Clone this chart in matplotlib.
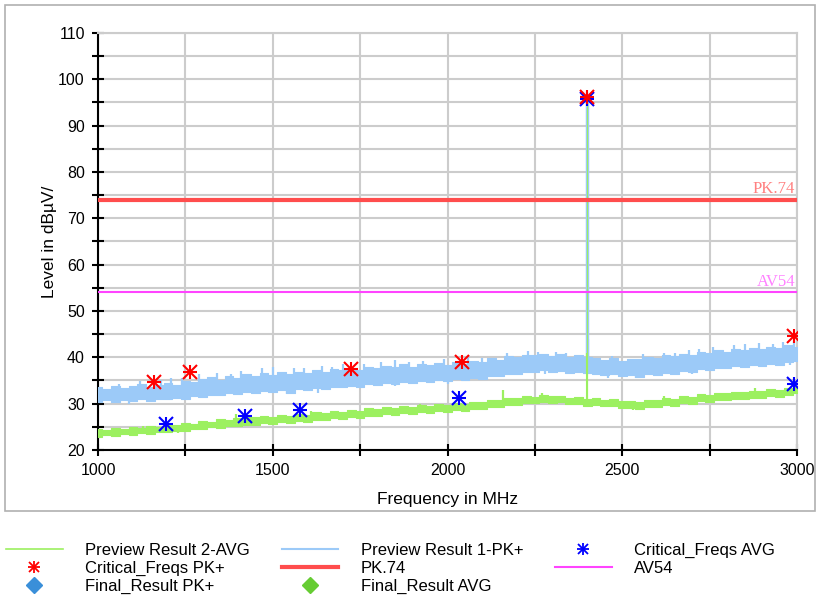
import numpy as np
import matplotlib
matplotlib.use('Agg')
import matplotlib.pyplot as plt
from matplotlib.patches import Rectangle
from matplotlib.legend_handler import HandlerTuple
from matplotlib.lines import Line2D

plt.rcParams['font.family'] = ['Liberation Sans', 'DejaVu Sans']

# trace envelopes (lower / upper edge of the noise band), read every 25 MHz
freq = np.arange(1000, 3001, 25)
pk_hi = [33.6, 33.2, 33.9, 33.3, 33.8, 34.2, 33.7, 34.0, 34.5, 34.1, 35.0, 34.6, 35.3, 35.8,
         35.2, 35.9, 35.6, 36.3, 35.9, 36.6, 36.2, 36.8, 36.3, 36.9, 36.6, 37.2, 36.8, 37.4,
         37.2, 37.7, 37.3, 37.9, 37.6, 38.2, 37.9, 38.5, 38.0, 38.6, 38.3, 38.8, 38.4, 38.9,
         38.6, 39.3, 38.9, 39.8, 39.5, 40.3, 40.0, 40.6, 40.4, 40.8, 40.3, 40.7, 40.1, 40.4,
         40.0, 39.8, 39.5, 39.9, 39.3, 39.7, 39.6, 40.1, 39.8, 40.4, 40.2, 40.8, 40.5, 41.2,
         41.0, 41.5, 41.2, 41.8, 41.6, 42.1, 41.8, 42.3, 42.0, 42.6, 42.3]
pk_lo = [30.4, 30.8, 30.3, 30.7, 30.5, 30.9, 30.6, 31.0, 30.9, 31.3, 31.1, 31.6, 31.4, 31.9,
         31.8, 32.2, 32.0, 32.5, 32.3, 32.7, 32.5, 32.9, 32.4, 33.1, 32.9, 33.3, 33.2, 33.6,
         33.5, 33.9, 33.7, 34.2, 34.0, 34.4, 34.2, 34.6, 34.4, 34.8, 34.7, 35.1, 34.8, 35.3,
         35.1, 35.5, 35.4, 35.9, 36.0, 36.5, 36.4, 36.9, 36.8, 37.2, 36.9, 37.1, 36.7, 36.9,
         36.6, 36.5, 36.2, 36.4, 35.9, 36.2, 35.8, 36.3, 36.1, 36.6, 36.5, 37.0, 36.9, 37.4,
         37.3, 37.8, 37.6, 38.1, 37.9, 38.3, 38.1, 38.6, 38.4, 38.9, 39.2]
av_hi = [24.6, 24.3, 24.8, 24.5, 25.0, 24.7, 25.2, 25.0, 25.5, 25.3, 25.9, 25.7, 26.3, 26.1,
         26.6, 26.4, 26.9, 27.3, 27.1, 27.4, 27.2, 27.5, 27.3, 27.8, 27.6, 28.1, 27.9, 28.4,
         28.2, 28.7, 28.5, 29.0, 28.8, 29.3, 29.1, 29.5, 29.3, 29.7, 29.5, 29.9, 29.7, 30.1,
         29.9, 30.4, 30.3, 30.8, 30.7, 31.3, 31.2, 31.6, 31.5, 31.8, 31.6, 31.7, 31.3, 31.4,
         31.0, 31.2, 30.8, 30.9, 30.5, 30.6, 30.4, 30.8, 30.7, 31.2, 31.1, 31.6, 31.5, 32.0,
         31.9, 32.3, 32.2, 32.6, 32.5, 32.8, 32.7, 33.1, 33.0, 33.4, 33.6]
av_lo = [22.9, 23.2, 23.0, 23.4, 23.2, 23.6, 23.5, 23.9, 23.8, 24.2, 24.1, 24.6, 24.5, 24.9,
         24.8, 25.2, 25.1, 25.5, 25.4, 25.8, 25.6, 26.0, 25.8, 26.2, 26.1, 26.5, 26.4, 26.8,
         26.7, 27.1, 27.0, 27.4, 27.3, 27.7, 27.6, 27.9, 27.8, 28.2, 28.0, 28.4, 28.2, 28.6,
         28.4, 28.9, 28.8, 29.3, 29.3, 29.8, 29.8, 30.2, 30.1, 30.4, 30.2, 30.3, 29.9, 29.9,
         29.6, 29.7, 29.4, 29.4, 29.0, 29.1, 28.9, 29.3, 29.2, 29.7, 29.6, 30.1, 30.0, 30.5,
         30.4, 30.8, 30.7, 31.1, 31.0, 31.3, 31.2, 31.6, 31.5, 31.9, 32.2]

# single noise spikes sticking out of the bands
pk_spike_f = [1060, 1120, 1180, 1210, 1240, 1290, 1340, 1380, 1410, 1470, 1500, 1560, 1590,
              1640, 1670, 1700, 1760, 1810, 1850, 1890, 1930, 1990, 2060, 2100, 2170, 2230,
              2260, 2310, 2340, 2403, 2470, 2560, 2620, 2650, 2690, 2720, 2760, 2820, 2850,
              2890, 2930, 2960, 2990]
pk_spike_bot = [31.8, 32.0, 32.2, 32.5, 32.8, 33.3, 33.6, 33.7, 34.0, 34.3, 34.4, 34.6, 34.7,
                35.0, 35.1, 35.3, 35.5, 35.7, 35.9, 36.0, 36.2, 36.5, 36.8, 37.0, 37.8, 38.4,
                38.6, 38.7, 38.6, 38.3, 37.9, 37.8, 38.2, 38.4, 38.8, 38.9, 39.2, 39.6, 39.8,
                40.0, 40.1, 40.3, 40.7]
pk_spike_top = [34.3, 34.8, 35.0, 35.5, 35.6, 36.4, 36.6, 36.5, 37.0, 37.6, 38.0, 37.6, 37.6,
                38.1, 38.0, 38.5, 38.6, 39.0, 39.4, 38.9, 39.3, 39.6, 40.1, 39.8, 41.0, 41.3,
                41.1, 41.2, 40.9, 44.0, 40.3, 40.8, 41.0, 41.0, 41.6, 41.7, 42.3, 42.6, 42.9,
                43.0, 42.9, 43.3, 43.5]
pk_dip_f = [1090, 1450, 1540, 1630, 1850, 2000, 2280, 2460, 2540, 2700, 2980]
pk_dip_bot = [30.0, 32.0, 32.1, 32.3, 33.8, 34.3, 36.5, 35.6, 35.5, 36.4, 38.3]
pk_dip_top = [32.0, 34.0, 34.5, 35.0, 36.0, 36.5, 38.5, 38.0, 37.8, 38.5, 40.7]
av_spike_f = [1130, 1230, 1395, 1610, 1920, 2160, 2270, 2530, 2620, 2880]
av_spike_bot = [24.0, 23.7, 26.0, 27.0, 28.6, 30.0, 31.0, 28.6, 30.3, 32.0]
av_spike_top = [25.2, 25.0, 27.8, 28.4, 30.0, 32.9, 32.2, 30.0, 31.7, 33.4]

# carrier at 2.4 GHz
carrier_f = 2400
carrier_pk = 95.5
carrier_av = 95.0

crit_pk_f = [1160, 1263, 1723, 2042, 2400, 2990]
crit_pk_v = [34.7, 36.8, 37.5, 39.0, 96.2, 44.6]
crit_av_f = [1194, 1420, 1577, 2033, 2400, 2990]
crit_av_v = [25.6, 27.3, 28.6, 31.2, 95.8, 34.2]

pk_limit = 74
av_limit = 54

c_pk = '#9ccaf8'
c_av = '#9cf060'

fig = plt.figure(figsize=(8.22, 6.01), dpi=100)
fig.patches.append(Rectangle((5 / 822, 1 - 511 / 601), 810 / 822, 506 / 601,
                             transform=fig.transFigure, fill=False, ec='#b0b0b0', lw=1.2))
ax = fig.add_axes([98 / 822, 1 - 450 / 601, 699 / 822, 417 / 601])

ax.fill_between(freq, av_lo, av_hi, step='mid', color=c_av, lw=0.8, zorder=3)
ax.vlines(av_spike_f, av_spike_bot, av_spike_top, color=c_av, lw=1.6, zorder=3)
ax.fill_between(freq, pk_lo, pk_hi, step='mid', color=c_pk, lw=0.8, zorder=3)
ax.vlines(pk_spike_f, pk_spike_bot, pk_spike_top, color=c_pk, lw=1.6, zorder=3)
ax.vlines(pk_dip_f, pk_dip_bot, pk_dip_top, color=c_pk, lw=1.6, zorder=3)
ax.vlines(carrier_f, 38, carrier_pk, color=c_pk, lw=2.5, zorder=3)
ax.vlines(carrier_f - 2, 30.5, carrier_av, color=c_av, lw=0.8, zorder=3)
ax.vlines(carrier_f - 2, 30.5, 41, color=c_av, lw=1.5, zorder=4)

ax.axhline(pk_limit, color='#ff4d4d', lw=3, zorder=4)
ax.axhline(av_limit, color='#ff44ff', lw=1.5, zorder=4)
ax.text(2995, pk_limit + 0.6, 'PK.74', color='#ff8080', fontsize=12,
        family='Liberation Serif', ha='right', va='bottom')
ax.text(2995, av_limit + 0.6, 'AV54', color='#ff80ff', fontsize=12,
        family='Liberation Serif', ha='right', va='bottom')

for m in ['+', 'x']:
    ax.plot(crit_pk_f, crit_pk_v, ls='none', marker=m, color='red', ms=10, mew=1.5, zorder=6)
    ax.plot(crit_av_f, crit_av_v, ls='none', marker=m, color='blue', ms=10, mew=1.5, zorder=5)

ax.set_xlim(1000, 3000)
ax.set_ylim(20, 110)
ax.set_xticks(range(1000, 3001, 500))
ax.set_xticks(range(1000, 3001, 250), minor=True)
ax.set_yticks(range(20, 111, 10))
ax.set_yticks(range(20, 111, 5), minor=True)
ax.grid(True, which='both', color='#cccccc', lw=1.5, zorder=0)
ax.set_axisbelow(True)
ax.tick_params(which='both', direction='inout', length=9, width=1.5, labelsize=11.5, pad=5)
for s in ['top', 'right']:
    ax.spines[s].set_color('#cccccc')
    ax.spines[s].set_linewidth(1.5)
for s in ['left', 'bottom']:
    ax.spines[s].set_linewidth(1.5)
ax.set_xlabel('Frequency in MHz', fontsize=12.5, labelpad=10)
ax.set_ylabel('Level in dBµV/', fontsize=12.5, labelpad=1)

def star(c):
    return (Line2D([], [], ls='none', marker='+', color=c, ms=9, mew=1.3),
            Line2D([], [], ls='none', marker='x', color=c, ms=7, mew=1.3))

handles = [Line2D([], [], color=c_av, lw=1.2), star('red'),
           Line2D([], [], ls='none', marker='D', color='#3a8fd9', ms=8),
           Line2D([], [], color=c_pk, lw=1.5), Line2D([], [], color='#ff4d4d', lw=3),
           Line2D([], [], ls='none', marker='D', color='#66cc33', ms=8),
           star('blue'), Line2D([], [], color='#ff44ff', lw=1.5)]
labels = ['Preview Result 2-AVG', 'Critical_Freqs PK+', 'Final_Result PK+',
          'Preview Result 1-PK+', 'PK.74', 'Final_Result AVG',
          'Critical_Freqs AVG', 'AV54']
fig.legend(handles, labels, ncol=3, loc='upper left',
           bbox_to_anchor=(-9 / 822, 1 - 528 / 601),
           frameon=False, fontsize=12, handlelength=3.4, handletextpad=1.35,
           columnspacing=1.9, labelspacing=0.18,
           handler_map={tuple: HandlerTuple(ndivide=1)})

fig.savefig('out.png', dpi=100)
